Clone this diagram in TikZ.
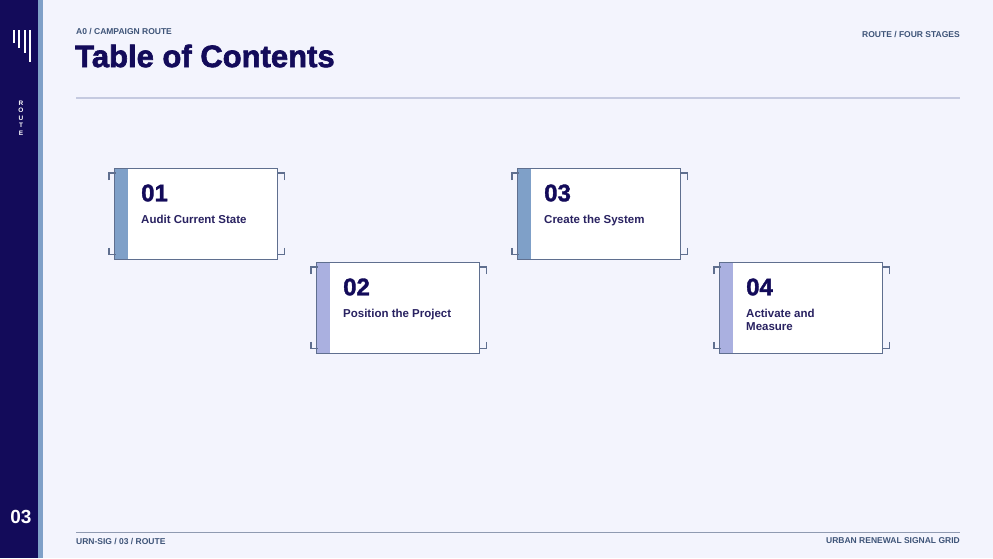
\documentclass[tikz,border=0pt]{standalone}
\usepackage{fontspec}
\setmainfont{Liberation Sans}
\usetikzlibrary{positioning}
\definecolor{navy}{HTML}{130B5A}
\definecolor{pagebg}{HTML}{F3F4FD}
\definecolor{stripe}{HTML}{7FA0C8}
\definecolor{lilac}{HTML}{AAB0E0}
\definecolor{rulegray}{HTML}{C5CAE0}
\definecolor{meta}{HTML}{3E5478}
\definecolor{frame}{HTML}{5F6F8F}
\tikzset{
  card/.style={draw=frame, fill=white, line width=0.8pt, minimum width=163pt, minimum height=91pt, inner sep=0pt},
  num/.style={font=\bfseries\fontsize{24}{24}\selectfont, text=navy, anchor=west, inner sep=0pt},
  steplabel/.style={font=\bfseries\fontsize{11.5}{13}\selectfont, text=navy!80!gray, anchor=north west, align=left, inner sep=0pt},
  small/.style={font=\bfseries\fontsize{8.5}{9}\selectfont, text=meta, inner sep=0pt}
}
\newcommand{\corners}[1]{%
  \draw[frame, line width=1.2pt] ([shift={(-5pt,-12pt)}]#1.north west) -- ++(0pt,7pt) -- ++(7pt,0pt);
  \draw[frame, line width=1.2pt] ([shift={(7pt,-12pt)}]#1.north east) -- ++(0pt,7pt) -- ++(-7pt,0pt);
  \draw[frame, line width=1.2pt] ([shift={(-5pt,12pt)}]#1.south west) -- ++(0pt,-7pt) -- ++(7pt,0pt);
  \draw[frame, line width=1.2pt] ([shift={(7pt,12pt)}]#1.south east) -- ++(0pt,-7pt) -- ++(-7pt,0pt);
}
\begin{document}
\begin{tikzpicture}[x=1pt,y=-1pt]
\fill[pagebg] (0,0) rectangle (993,558);
\useasboundingbox (0,0) rectangle (993,558);
% sidebar
\fill[navy] (0,0) rectangle (38,558);
\fill[stripe] (38,0) rectangle (43,558);
\foreach \x/\h in {14/43, 19/48, 25/53, 30/62} \draw[white, line width=1.3pt] (\x,30) -- (\x,\h);
\node[white, font=\bfseries\fontsize{6.5}{7.5}\selectfont, align=center] (side) at (21,118) {R\\O\\U\\T\\E};
\node[white, font=\bfseries\fontsize{19}{19}\selectfont] (page) at (21,517) {03};
% header
\node[small, anchor=west] (kicker) at (76,32) {A0 / CAMPAIGN ROUTE};
\node[font=\bfseries\fontsize{31}{31}\selectfont, text=navy, anchor=west, inner sep=0pt] (title) at (75,56) {\addfontfeature{FakeBold=2}Table of Contents};
\node[small, anchor=east] (route) at (960,35) {ROUTE / FOUR STAGES};
\draw[rulegray, line width=1.5pt] (76,98) -- (960,98);
% cards
\foreach \n/\x/\y/\c/\t in {01/114/168/stripe/Audit Current State, 02/316/262/lilac/Position the Project, 03/517/168/stripe/Create the System, 04/719/262/lilac/Activate and\\Measure}{
  \node[card, anchor=north west] (c\n) at (\x,\y) {};
  \fill[\c] (c\n.north west) rectangle ([xshift=14pt]c\n.south west);
  \draw[frame, line width=0.8pt] (c\n.north west) rectangle (c\n.south east);
  \corners{c\n}
  \node[num] (n\n) at ([shift={(27pt,-25pt)}]c\n.north west) {\addfontfeature{FakeBold=1.5}\n};
  \node[steplabel] (s\n) at ([shift={(27pt,-47pt)}]c\n.north west) {\t};
}
% footer
\draw[frame!70, line width=0.8pt] (76,532) -- (960,532);
\node[small, anchor=west] (code) at (76,541) {URN-SIG / 03 / ROUTE};
\node[small, anchor=east] (brand) at (960,541) {URBAN RENEWAL SIGNAL GRID};
\end{tikzpicture}
\end{document}
